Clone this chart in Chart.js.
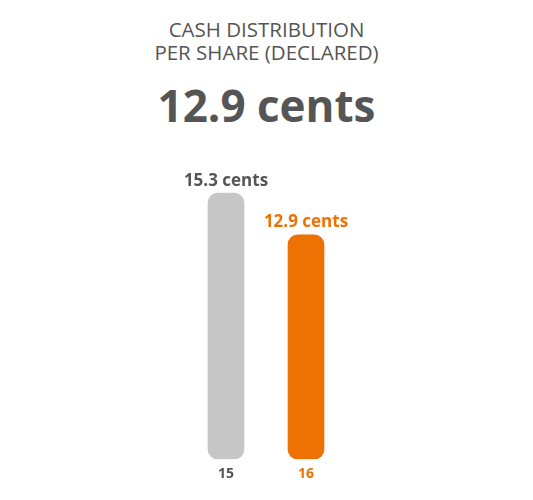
<!DOCTYPE html>
<html>
<head>
<meta charset="utf-8">
<script src="https://cdn.jsdelivr.net/npm/chart.js@4"></script>
<style>
  html, body { margin: 0; padding: 0; background: #fff; }
  body { width: 533px; height: 500px; position: relative; overflow: hidden; font-family: "Open Sans", sans-serif; }
  .title { position: absolute; left: 0; width: 533px; text-align: center; color: #555; }
  #t1 { top: 18px; font-size: 20.5px; line-height: 23px; }
  #t2 { top: 77px; font-size: 44px; line-height: 56px; font-weight: 700; }
  #wrap { position: absolute; left: 0; top: 150px; width: 533px; height: 338px; }
</style>
</head>
<body>
<div class="title" id="t1">CASH DISTRIBUTION<br>PER SHARE (DECLARED)</div>
<div class="title" id="t2">12.9 cents</div>
<div id="wrap"><canvas id="chart"></canvas></div>
<script>
// periods and declared distribution per share (cents)
const categories = ['15', '16'];
const distribution = [15.3, 12.9];
const valueLabels = ['15.3 cents', '12.9 cents'];
const barColors = ['#c6c6c6', '#ee7203'];
const textColors = ['#555555', '#ee7203'];

const labelPlugin = {
    id: 'valueLabels',
    afterDatasetsDraw(chart) {
        const ctx = chart.ctx;
        const meta = chart.getDatasetMeta(0);
        ctx.save();
        ctx.font = 'bold 17px "Open Sans", sans-serif';
        ctx.textAlign = 'center';
        ctx.textBaseline = 'bottom';
        meta.data.forEach((bar, i) => {
            ctx.fillStyle = textColors[i];
            ctx.fillText(valueLabels[i], bar.x, bar.y - 4);
        });
        ctx.restore();
    }
};

new Chart(document.getElementById('chart'), {
    type: 'bar',
    data: {
        labels: categories,
        datasets: [{
            data: distribution,
            backgroundColor: barColors,
            borderRadius: 10,
            borderSkipped: false,
            barThickness: 36
        }]
    },
    options: {
        responsive: true,
        maintainAspectRatio: false,
        animation: false,
        layout: { padding: { left: 186, right: 187, top: 31, bottom: 0 } },
        plugins: {
            legend: { display: false },
            tooltip: { enabled: false }
        },
        scales: {
            y: {
                display: false,
                min: 0,
                max: 16
            },
            x: {
                grid: { display: false, drawTicks: false },
                border: { display: false },
                ticks: {
                    padding: 6,
                    font: { family: '"Open Sans", sans-serif', size: 14, weight: 'bold' },
                    color: textColors
                }
            }
        }
    },
    plugins: [labelPlugin]
});
</script>
</body>
</html>
